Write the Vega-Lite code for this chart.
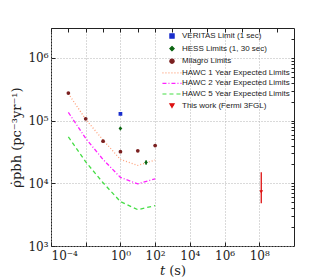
{
  "$schema": "https://vega.github.io/schema/vega-lite/v6.json",
  "autosize": "none",
  "padding": {"left": 51, "top": 28, "right": 26, "bottom": 34},
  "width": 243,
  "height": 218,
  "background": "white",
  "config": {
    "view": {"stroke": "#222", "strokeWidth": 1},
    "axis": {"domain": false, "labelFont": "DejaVu Serif", "titleFont": "DejaVu Serif", "labelColor": "#222", "titleColor": "#222", "tickColor": "#222", "gridColor": "#b5b5b5", "gridDash": [1, 2]}
  },
  "data": {"values": [
    {"series": "VERITAS Limit (1 sec)", "t": 1, "rate": 128000},
    {"series": "HESS Limits (1, 30 sec)", "t": 1, "rate": 75000, "lo": 70000, "hi": 80000},
    {"series": "HESS Limits (1, 30 sec)", "t": 30, "rate": 21500, "lo": 19800, "hi": 23300},
    {"series": "Milagro Limits", "t": 0.001, "rate": 275000},
    {"series": "Milagro Limits", "t": 0.01, "rate": 107000},
    {"series": "Milagro Limits", "t": 0.1, "rate": 47000},
    {"series": "Milagro Limits", "t": 1, "rate": 32000},
    {"series": "Milagro Limits", "t": 10, "rate": 33000},
    {"series": "Milagro Limits", "t": 100, "rate": 40000},
    {"series": "HAWC 1 Year Expected Limits", "t": 0.001, "rate": 270000},
    {"series": "HAWC 1 Year Expected Limits", "t": 0.01, "rate": 105000},
    {"series": "HAWC 1 Year Expected Limits", "t": 0.1, "rate": 49000},
    {"series": "HAWC 1 Year Expected Limits", "t": 1, "rate": 24000},
    {"series": "HAWC 1 Year Expected Limits", "t": 10, "rate": 19300},
    {"series": "HAWC 1 Year Expected Limits", "t": 100, "rate": 23500},
    {"series": "HAWC 2 Year Expected Limits", "t": 0.001, "rate": 135000},
    {"series": "HAWC 2 Year Expected Limits", "t": 0.01, "rate": 52000},
    {"series": "HAWC 2 Year Expected Limits", "t": 0.1, "rate": 24000},
    {"series": "HAWC 2 Year Expected Limits", "t": 1, "rate": 12400},
    {"series": "HAWC 2 Year Expected Limits", "t": 10, "rate": 9800},
    {"series": "HAWC 2 Year Expected Limits", "t": 100, "rate": 11800},
    {"series": "HAWC 5 Year Expected Limits", "t": 0.001, "rate": 55000},
    {"series": "HAWC 5 Year Expected Limits", "t": 0.01, "rate": 22000},
    {"series": "HAWC 5 Year Expected Limits", "t": 0.1, "rate": 10200},
    {"series": "HAWC 5 Year Expected Limits", "t": 1, "rate": 5100},
    {"series": "HAWC 5 Year Expected Limits", "t": 10, "rate": 3800},
    {"series": "HAWC 5 Year Expected Limits", "t": 100, "rate": 4400},
    {"series": "This work (Fermi 3FGL)", "t": 130000000, "rate": 7300, "lo": 4800, "hi": 15000}
  ]},
  "layer": [
    {
      "transform": [{"filter": "indexof(datum.series, 'HAWC') == 0"}],
      "mark": {"type": "line", "strokeWidth": 1.3},
      "encoding": {
        "x": {"field": "t", "type": "quantitative",
          "scale": {"type": "log", "domain": [0.0001, 10000000000], "nice": false},
          "axis": {"values": [0.0001, 0.01, 1, 100, 10000, 1000000, 100000000], "tickSize": -4, "labelPadding": 8, "labelFontSize": 12, "grid": true,
            "labelExpr": "'10' + replace(replace(replace(replace(replace(replace(replace(replace('' + round(log(datum.value)/LN10), '-', '⁻'), '0', '⁰'), '2', '²'), '3', '³'), '4', '⁴'), '5', '⁵'), '6', '⁶'), '8', '⁸')",
            "title": "𝑡 (s)", "titleFontSize": 13, "titleFontWeight": "normal", "titlePadding": 3}},
        "y": {"field": "rate", "type": "quantitative",
          "scale": {"type": "log", "domain": [1000, 3000000], "nice": false},
          "axis": {"values": [1000, 10000, 100000, 1000000], "tickSize": -4, "labelPadding": 7, "labelFontSize": 12, "grid": true,
            "labelExpr": "'10' + replace(replace(replace(replace(replace(replace(replace(replace('' + round(log(datum.value)/LN10), '-', '⁻'), '0', '⁰'), '2', '²'), '3', '³'), '4', '⁴'), '5', '⁵'), '6', '⁶'), '8', '⁸')",
            "title": "ρ̇pbh (pc⁻³yr⁻¹)", "titleFontSize": 13, "titleFontWeight": "normal", "titlePadding": 4}},
        "color": {"field": "series", "type": "nominal", "title": null,
          "scale": {"domain": ["VERITAS Limit (1 sec)", "HESS Limits (1, 30 sec)", "Milagro Limits", "HAWC 1 Year Expected Limits", "HAWC 2 Year Expected Limits", "HAWC 5 Year Expected Limits", "This work (Fermi 3FGL)"],
            "range": ["#1a2ecc", "#0a6410", "#7a2020", "#ffa07a", "#ff22ff", "#44dd44", "#dd1111"]},
          "legend": {"orient": "none", "legendX": 117, "legendY": 4, "labelFont": "Liberation Sans", "labelFontSize": 8, "labelColor": "#222", "symbolSize": 18, "rowPadding": 2.6, "symbolStrokeWidth": 1.2, "labelOffset": 6,
            "encode": {"symbols": {"update": {"fill": {"scale": "color", "field": "value"}, "fillOpacity": {"value": 1}}}}}},
        "strokeDash": {"field": "series", "type": "nominal", "title": null,
          "scale": {"domain": ["VERITAS Limit (1 sec)", "HESS Limits (1, 30 sec)", "Milagro Limits", "HAWC 1 Year Expected Limits", "HAWC 2 Year Expected Limits", "HAWC 5 Year Expected Limits", "This work (Fermi 3FGL)"],
            "range": [[1, 0], [1, 0], [1, 0], [1, 2], [4, 2, 1, 2], [4, 3], [1, 0]]}}
      }
    },
    {
      "transform": [{"filter": "isValid(datum.lo)"}],
      "mark": {"type": "rule", "strokeWidth": 1.3},
      "encoding": {
        "x": {"field": "t", "type": "quantitative", "scale": {"type": "log"},
          "axis": {"values": [0.0001, 0.001, 0.01, 0.1, 1, 10, 100, 1000, 10000, 100000, 1000000, 10000000, 100000000, 1000000000], "tickSize": -3, "labels": false, "grid": false, "title": null}},
        "y": {"field": "lo", "type": "quantitative", "scale": {"type": "log"},
          "axis": {"values": [2000, 3000, 4000, 5000, 6000, 7000, 8000, 9000, 20000, 30000, 40000, 50000, 60000, 70000, 80000, 90000, 200000, 300000, 400000, 500000, 600000, 700000, 800000, 900000, 2000000], "tickSize": -2, "labels": false, "grid": false, "title": null}},
        "y2": {"field": "hi"},
        "color": {"field": "series", "type": "nominal", "legend": null}
      }
    },
    {
      "transform": [{"filter": "indexof(datum.series, 'HAWC') != 0"}],
      "mark": {"type": "point", "filled": true, "opacity": 1, "size": 14, "strokeWidth": 0.5},
      "encoding": {
        "x": {"field": "t", "type": "quantitative", "scale": {"type": "log"},
          "axis": {"orient": "top", "values": [0.0001, 0.001, 0.01, 0.1, 1, 10, 100, 1000, 10000, 100000, 1000000, 10000000, 100000000, 1000000000], "tickSize": -4, "labels": false, "grid": false, "title": null}},
        "y": {"field": "rate", "type": "quantitative", "scale": {"type": "log"},
          "axis": {"orient": "right", "values": [2000, 3000, 4000, 5000, 6000, 7000, 8000, 9000, 10000, 20000, 30000, 40000, 50000, 60000, 70000, 80000, 90000, 100000, 200000, 300000, 400000, 500000, 600000, 700000, 800000, 900000, 1000000, 2000000], "tickSize": -3, "labels": false, "grid": false, "title": null}},
        "color": {"field": "series", "type": "nominal", "title": null},
        "shape": {"field": "series", "type": "nominal", "title": null,
          "scale": {"domain": ["VERITAS Limit (1 sec)", "HESS Limits (1, 30 sec)", "Milagro Limits", "HAWC 1 Year Expected Limits", "HAWC 2 Year Expected Limits", "HAWC 5 Year Expected Limits", "This work (Fermi 3FGL)"],
            "range": ["square", "diamond", "circle", "M-4.5,0H4.5", "M-4.5,0H4.5", "M-4.5,0H4.5", "triangle-down"]}}
      }
    }
  ],
  "resolve": {"axis": {"x": "independent", "y": "independent"}}
}
